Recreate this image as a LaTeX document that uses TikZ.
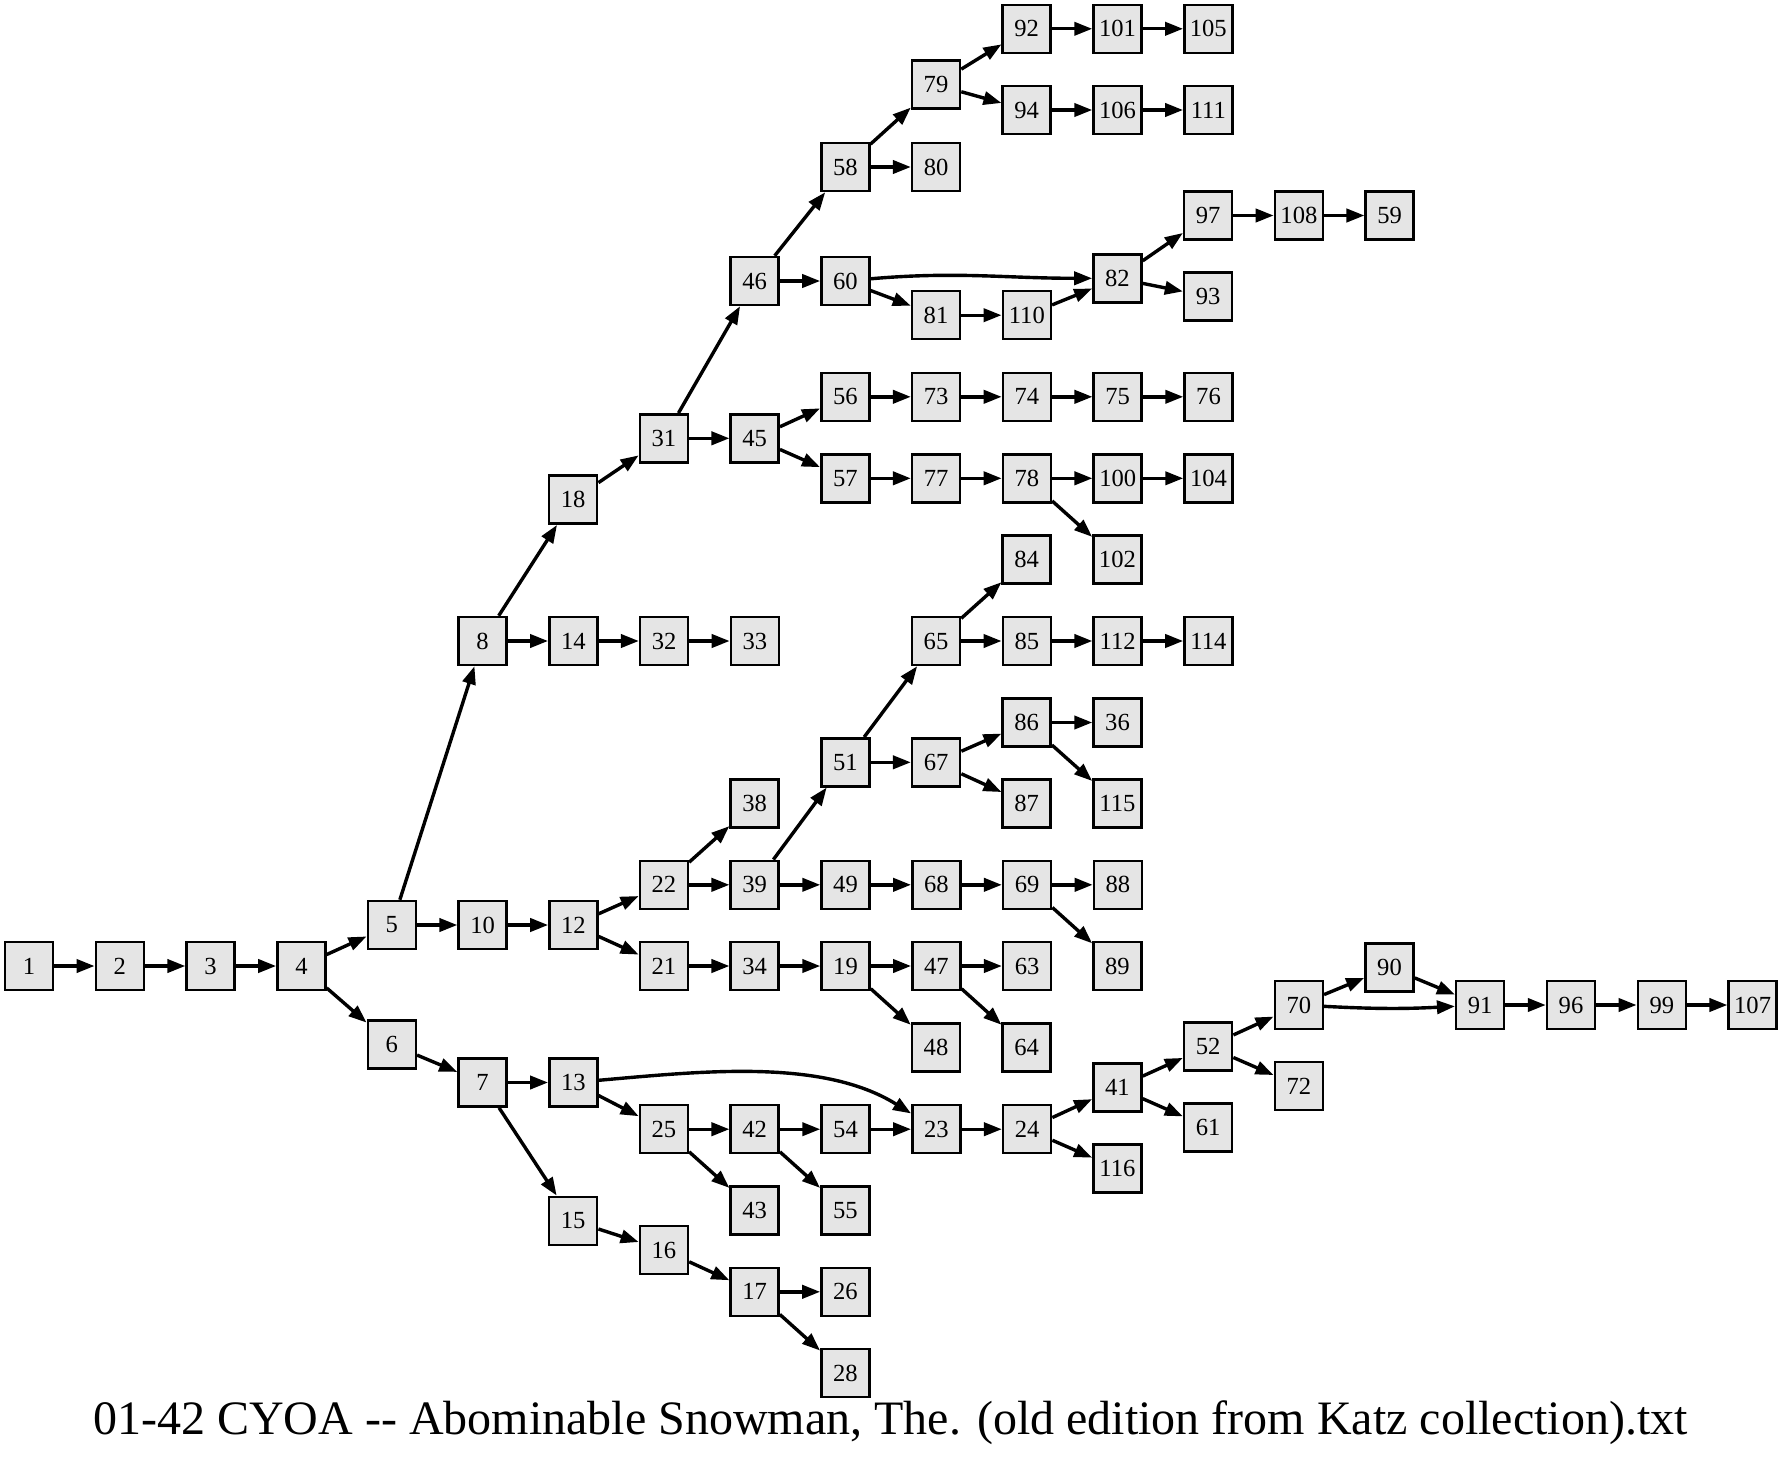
\documentclass[tikz,border=0pt]{standalone}
\usepackage{fontspec}
\setmainfont{Liberation Serif}
\usepackage{tikz}
\usetikzlibrary{arrows.meta, positioning}

\begin{document}
\begin{tikzpicture}[
    x=0.5pt, y=-0.5pt,
    node distance=20.15pt,
    pagebox/.style={rectangle, draw, line width=1.25pt, fill=black!10, minimum size=24pt, inner sep=0pt, font=\fontsize{12.3}{14}\selectfont},
    arr/.style={-{Triangle[length=9pt, width=6.6pt]}, line width=1.7pt},
    titletext/.style={font=\fontsize{24}{28}\selectfont, anchor=base}
]
\useasboundingbox (0,0) rectangle (1781,1461);

% start of the book
\node[pagebox] (p1) at (29,966) {1};
\node[pagebox, right=of p1] (p2) {2};
\node[pagebox, right=of p2] (p3) {3};
\node[pagebox, right=of p3] (p4) {4};
\node[pagebox] (p5) at (391.8,925) {5};
\node[pagebox] (p6) at (391.8,1044.5) {6};
\node[pagebox, right=of p5] (p10) {10};
\node[pagebox, right=of p10] (p12) {12};

% upper branch
\node[pagebox] (p8) at (482.5,641) {8};
\node[pagebox, right=of p8] (p14) {14};
\node[pagebox, right=of p14] (p32) {32};
\node[pagebox, right=of p32] (p33) {33};
\node[pagebox] (p18) at (573.2,499.7) {18};
\node[pagebox] (p31) at (663.9,438.3) {31};
\node[pagebox, right=of p31] (p45) {45};
\node[pagebox] (p46) at (754.6,281) {46};
\node[pagebox, right=of p46] (p60) {60};
\node[pagebox] (p58) at (845.3,167) {58};
\node[pagebox, right=of p58] (p80) {80};
\node[pagebox] (p79) at (936,84.7) {79};
\node[pagebox] (p92) at (1026.7,28.8) {92};
\node[pagebox, right=of p92] (p101) {101};
\node[pagebox, right=of p101] (p105) {105};
\node[pagebox] (p94) at (1026.7,110) {94};
\node[pagebox, right=of p94] (p106) {106};
\node[pagebox, right=of p106] (p111) {111};
\node[pagebox] (p81) at (936,315.2) {81};
\node[pagebox, right=of p81] (p110) {110};
\node[pagebox] (p82) at (1117.4,278.3) {82};
\node[pagebox] (p97) at (1208.1,215.5) {97};
\node[pagebox, right=of p97] (p108) {108};
\node[pagebox, right=of p108] (p59) {59};
\node[pagebox] (p93) at (1208.1,296.5) {93};
\node[pagebox] (p56) at (845.3,396.8) {56};
\node[pagebox, right=of p56] (p73) {73};
\node[pagebox, right=of p73] (p74) {74};
\node[pagebox, right=of p74] (p75) {75};
\node[pagebox, right=of p75] (p76) {76};
\node[pagebox] (p57) at (845.3,478.3) {57};
\node[pagebox, right=of p57] (p77) {77};
\node[pagebox, right=of p77] (p78) {78};
\node[pagebox, right=of p78] (p100) {100};
\node[pagebox, right=of p100] (p104) {104};
\node[pagebox] (p102) at (1117.4,559.5) {102};

% middle branch
\node[pagebox] (p22) at (663.9,884.8) {22};
\node[pagebox, right=of p22] (p39) {39};
\node[pagebox, right=of p39] (p49) {49};
\node[pagebox, right=of p49] (p68) {68};
\node[pagebox, right=of p68] (p69) {69};
\node[pagebox, right=of p69] (p88) {88};
\node[pagebox] (p38) at (754.6,803.5) {38};
\node[pagebox] (p51) at (845.3,762.3) {51};
\node[pagebox, right=of p51] (p67) {67};
\node[pagebox] (p65) at (936,641) {65};
\node[pagebox, right=of p65] (p85) {85};
\node[pagebox, right=of p85] (p112) {112};
\node[pagebox, right=of p112] (p114) {114};
\node[pagebox] (p84) at (1026.7,559.5) {84};
\node[pagebox] (p86) at (1026.7,722.5) {86};
\node[pagebox, right=of p86] (p36) {36};
\node[pagebox] (p87) at (1026.7,803.5) {87};
\node[pagebox] (p115) at (1117.4,803.5) {115};
\node[pagebox] (p89) at (1117.4,966) {89};
\node[pagebox] (p21) at (663.9,966) {21};
\node[pagebox, right=of p21] (p34) {34};
\node[pagebox, right=of p34] (p19) {19};
\node[pagebox, right=of p19] (p47) {47};
\node[pagebox, right=of p47] (p63) {63};
\node[pagebox] (p48) at (936,1047.5) {48};
\node[pagebox] (p64) at (1026.7,1047.5) {64};

% lower branch
\node[pagebox] (p7) at (482.5,1082.5) {7};
\node[pagebox, right=of p7] (p13) {13};
\node[pagebox] (p25) at (663.9,1129.2) {25};
\node[pagebox, right=of p25] (p42) {42};
\node[pagebox, right=of p42] (p54) {54};
\node[pagebox, right=of p54] (p23) {23};
\node[pagebox, right=of p23] (p24) {24};
\node[pagebox] (p43) at (754.6,1210.5) {43};
\node[pagebox] (p55) at (845.3,1210.5) {55};
\node[pagebox] (p41) at (1117.4,1087.5) {41};
\node[pagebox] (p116) at (1117.4,1168.7) {116};
\node[pagebox] (p52) at (1208.1,1046.5) {52};
\node[pagebox] (p61) at (1208.1,1127.5) {61};
\node[pagebox] (p70) at (1298.8,1005) {70};
\node[pagebox] (p72) at (1298.8,1086) {72};
\node[pagebox] (p90) at (1389.5,967.5) {90};
\node[pagebox] (p91) at (1480.2,1005) {91};
\node[pagebox, right=of p91] (p96) {96};
\node[pagebox, right=of p96] (p99) {99};
\node[pagebox, right=of p99] (p107) {107};
\node[pagebox] (p15) at (573.2,1220.8) {15};
\node[pagebox] (p16) at (663.9,1250.2) {16};
\node[pagebox] (p17) at (754.6,1291.8) {17};
\node[pagebox, right=of p17] (p26) {26};
\node[pagebox] (p28) at (845.3,1373.2) {28};

\node[titletext] (title) at (890.5,1434) {01-42 CYOA -\kern0pt- Abominable Snowman, The. (old edition from Katz collection).txt};

\draw[arr] (p1) -- (p2);
\draw[arr] (p2) -- (p3);
\draw[arr] (p3) -- (p4);
\draw[arr] (p4) -- (p5);
\draw[arr] (p4) -- (p6);
\draw[arr] (p5) -- (p8);
\draw[arr] (p5) -- (p10);
\draw[arr] (p10) -- (p12);
\draw[arr] (p8) -- (p18);
\draw[arr] (p8) -- (p14);
\draw[arr] (p14) -- (p32);
\draw[arr] (p32) -- (p33);
\draw[arr] (p18) -- (p31);
\draw[arr] (p31) -- (p46);
\draw[arr] (p31) -- (p45);
\draw[arr] (p46) -- (p58);
\draw[arr] (p46) -- (p60);
\draw[arr] (p58) -- (p79);
\draw[arr] (p58) -- (p80);
\draw[arr] (p79) -- (p92);
\draw[arr] (p79) -- (p94);
\draw[arr] (p92) -- (p101);
\draw[arr] (p101) -- (p105);
\draw[arr] (p94) -- (p106);
\draw[arr] (p106) -- (p111);
\draw[arr] (p60) to[out=5, in=180] (p82);
\draw[arr] (p60) -- (p81);
\draw[arr] (p81) -- (p110);
\draw[arr] (p110) -- (p82);
\draw[arr] (p82) -- (p97);
\draw[arr] (p82) -- (p93);
\draw[arr] (p97) -- (p108);
\draw[arr] (p108) -- (p59);
\draw[arr] (p45) -- (p56);
\draw[arr] (p45) -- (p57);
\draw[arr] (p56) -- (p73);
\draw[arr] (p73) -- (p74);
\draw[arr] (p74) -- (p75);
\draw[arr] (p75) -- (p76);
\draw[arr] (p57) -- (p77);
\draw[arr] (p77) -- (p78);
\draw[arr] (p78) -- (p100);
\draw[arr] (p100) -- (p104);
\draw[arr] (p78) -- (p102);
\draw[arr] (p12) -- (p22);
\draw[arr] (p12) -- (p21);
\draw[arr] (p22) -- (p38);
\draw[arr] (p22) -- (p39);
\draw[arr] (p39) -- (p51);
\draw[arr] (p39) -- (p49);
\draw[arr] (p51) -- (p65);
\draw[arr] (p51) -- (p67);
\draw[arr] (p65) -- (p84);
\draw[arr] (p65) -- (p85);
\draw[arr] (p85) -- (p112);
\draw[arr] (p112) -- (p114);
\draw[arr] (p67) -- (p86);
\draw[arr] (p67) -- (p87);
\draw[arr] (p86) -- (p36);
\draw[arr] (p86) -- (p115);
\draw[arr] (p49) -- (p68);
\draw[arr] (p68) -- (p69);
\draw[arr] (p69) -- (p88);
\draw[arr] (p69) -- (p89);
\draw[arr] (p21) -- (p34);
\draw[arr] (p34) -- (p19);
\draw[arr] (p19) -- (p47);
\draw[arr] (p19) -- (p48);
\draw[arr] (p47) -- (p63);
\draw[arr] (p47) -- (p64);
\draw[arr] (p6) -- (p7);
\draw[arr] (p7) -- (p13);
\draw[arr] (p7) -- (p15);
\draw[arr] (p13) to[out=5, in=148, looseness=0.85] (p23);
\draw[arr] (p13) -- (p25);
\draw[arr] (p25) -- (p42);
\draw[arr] (p25) -- (p43);
\draw[arr] (p42) -- (p54);
\draw[arr] (p42) -- (p55);
\draw[arr] (p54) -- (p23);
\draw[arr] (p23) -- (p24);
\draw[arr] (p24) -- (p41);
\draw[arr] (p24) -- (p116);
\draw[arr] (p41) -- (p52);
\draw[arr] (p41) -- (p61);
\draw[arr] (p52) -- (p70);
\draw[arr] (p52) -- (p72);
\draw[arr] (p70) -- (p90);
\draw[arr] (p70) to[bend right=3] (p91);
\draw[arr] (p90) -- (p91);
\draw[arr] (p91) -- (p96);
\draw[arr] (p96) -- (p99);
\draw[arr] (p99) -- (p107);
\draw[arr] (p15) -- (p16);
\draw[arr] (p16) -- (p17);
\draw[arr] (p17) -- (p26);
\draw[arr] (p17) -- (p28);
\end{tikzpicture}
\end{document}
